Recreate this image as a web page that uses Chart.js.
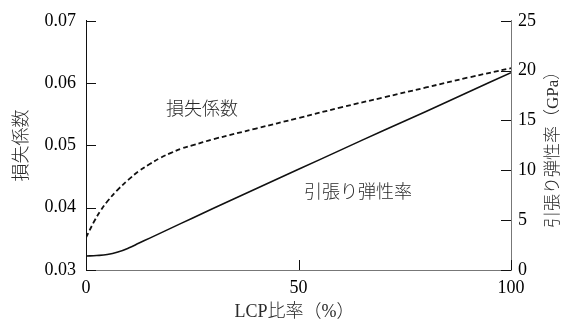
<!DOCTYPE html>
<html>
<head>
<meta charset="utf-8">
<script src="https://cdn.jsdelivr.net/npm/chart.js@4/dist/chart.umd.min.js"></script>
<style>
  html, body { margin: 0; padding: 0; background: #fff; }
  canvas { display: block; }
</style>
</head>
<body>
<canvas id="c" width="576" height="324"></canvas>
<script>
// LCP ratio (%) and loss factor (left axis)
const lossRatio  = [0, 2, 3.5, 5, 7.5, 10, 12.5, 15, 17.5, 20, 22.5, 25, 30, 40, 50, 60, 70, 80, 90, 100];
const lossFactor = [0.0352, 0.0379, 0.0396, 0.0410, 0.0429, 0.0445, 0.0459, 0.0470, 0.0480, 0.0488, 0.0495, 0.0500, 0.0510, 0.0527, 0.0544, 0.0561, 0.0577, 0.0593, 0.0609, 0.0624];

// LCP ratio (%) and tensile modulus in GPa (right axis)
const modulusRatio = [0, 2.5, 5, 7.5, 10, 12.5, 15, 20, 25, 30, 40, 50, 60, 70, 80, 90, 100];
const modulus      = [1.4, 1.45, 1.55, 1.8, 2.2, 2.7, 3.2, 4.2, 5.2, 6.2, 8.15, 10.1, 12.05, 14.0, 15.9, 17.85, 19.8];

// Axis ticks
const xTicks = [0, 50, 100];
const lossTicks = [0.03, 0.04, 0.05, 0.06, 0.07];
const modulusTicks = [0, 5, 10, 15, 20, 25];

// Text
const xTitle = 'LCP比率（%）';
const leftTitle = '損失係数';
const rightTitle = '引張り弾性率（GPa）';
const lossLabel = '損失係数';
const modulusLabel = '引張り弾性率';

const FONT = "'Liberation Serif', 'Noto Sans CJK JP', serif";
const INK = '#111';
const TEXT = '#2a2a2a';

// In-plot label anchors (data coordinates)
const lossLabelAt = { x: 27.3, y: 0.0556 };
const modulusLabelAt = { x: 64, y: 7.65 };

const axisDecor = {
  id: 'axisDecor',
  afterDraw(chart) {
    const ctx = chart.ctx;
    const { left, right, top, bottom } = chart.chartArea;
    const sx = chart.scales.x, sl = chart.scales.yL, sr = chart.scales.yR;
    const len = 10;
    ctx.save();
    ctx.strokeStyle = INK;
    ctx.lineWidth = 1;
    ctx.beginPath();
    xTicks.forEach(v => {
      const p = Math.round(sx.getPixelForValue(v)) + 0.5;
      ctx.moveTo(p, bottom); ctx.lineTo(p, bottom - len);
    });
    lossTicks.forEach(v => {
      const p = Math.round(sl.getPixelForValue(v)) + 0.5;
      ctx.moveTo(left, p); ctx.lineTo(left + len, p);
    });
    modulusTicks.forEach(v => {
      const p = Math.round(sr.getPixelForValue(v)) + 0.5;
      ctx.moveTo(right, p); ctx.lineTo(right - len, p);
    });
    ctx.stroke();

    ctx.fillStyle = TEXT;
    ctx.textAlign = 'center';
    ctx.textBaseline = 'middle';

    // x axis title
    ctx.font = '300 18px ' + FONT;
    ctx.fillText(xTitle, (left + right) / 2 - 4, 312);

    // left axis title, reading upward
    const midY = (top + bottom) / 2;
    ctx.save();
    ctx.translate(22, midY);
    ctx.rotate(-Math.PI / 2);
    ctx.font = '300 18px ' + FONT;
    ctx.fillText(leftTitle, 0, 0);
    ctx.restore();

    // right axis title, also reading upward
    ctx.save();
    ctx.translate(554, midY);
    ctx.rotate(-Math.PI / 2);
    ctx.font = '300 17px ' + FONT;
    ctx.fillText(rightTitle, 0, 0);
    ctx.restore();

    // series labels inside the plot
    ctx.font = '300 18px ' + FONT;
    ctx.fillText(lossLabel, sx.getPixelForValue(lossLabelAt.x), sl.getPixelForValue(lossLabelAt.y));
    ctx.fillText(modulusLabel, sx.getPixelForValue(modulusLabelAt.x), sr.getPixelForValue(modulusLabelAt.y));
    ctx.restore();
  }
};

const tickFont = { family: FONT, size: 18 };

new Chart(document.getElementById('c'), {
  type: 'line',
  data: {
    datasets: [
      {
        label: lossLabel,
        data: lossRatio.map((x, i) => ({ x, y: lossFactor[i] })),
        yAxisID: 'yL',
        borderColor: '#111',
        borderWidth: 1.8,
        borderDash: [5, 3],
        pointRadius: 0,
        tension: 0.4,
        fill: false
      },
      {
        label: modulusLabel,
        data: modulusRatio.map((x, i) => ({ x, y: modulus[i] })),
        yAxisID: 'yR',
        borderColor: '#111',
        borderWidth: 1.6,
        pointRadius: 0,
        tension: 0.4,
        fill: false
      }
    ]
  },
  options: {
    responsive: false,
    animation: false,
    devicePixelRatio: 1,
    layout: { padding: { top: 15, left: 0, right: 0, bottom: 0 } },
    plugins: { legend: { display: false }, tooltip: { enabled: false } },
    scales: {
      x: {
        type: 'linear',
        min: 0, max: 100,
        afterBuildTicks: s => { s.ticks = xTicks.map(v => ({ value: v })); },
        ticks: { font: tickFont, color: '#000', padding: 7, maxRotation: 0 },
        grid: { drawOnChartArea: false, drawTicks: false },
        border: { color: '#777', width: 1 },
        afterFit: s => { s.height = 54; }
      },
      yL: {
        type: 'linear',
        position: 'left',
        min: 0.03, max: 0.07,
        afterBuildTicks: s => { s.ticks = lossTicks.map(v => ({ value: v })); },
        ticks: { font: tickFont, color: '#000', padding: 10, callback: v => v.toFixed(2) },
        grid: { drawOnChartArea: false, drawTicks: false },
        border: { color: INK, width: 1 },
        afterFit: s => { s.width = 86; }
      },
      yR: {
        type: 'linear',
        position: 'right',
        min: 0, max: 25,
        afterBuildTicks: s => { s.ticks = modulusTicks.map(v => ({ value: v })); },
        ticks: { font: tickFont, color: '#000', padding: 7 },
        grid: { drawOnChartArea: false, drawTicks: false },
        border: { color: '#777', width: 1 },
        afterFit: s => { s.width = 65; }
      }
    }
  },
  plugins: [axisDecor]
});
</script>
</body>
</html>
